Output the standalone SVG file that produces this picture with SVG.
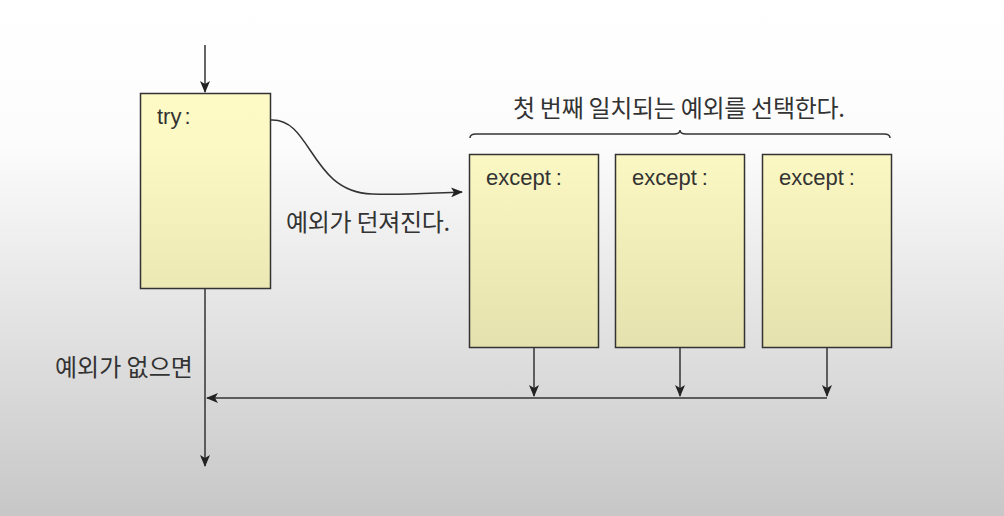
<svg xmlns="http://www.w3.org/2000/svg" width="1004" height="516" viewBox="0 0 1004 516">
<defs>
<linearGradient id="bg" gradientUnits="userSpaceOnUse" x1="0" y1="0" x2="0" y2="516">
<stop offset="0" stop-color="#ffffff"/>
<stop offset="0.28" stop-color="#fcfcfc"/>
<stop offset="1" stop-color="#c7c7c7"/>
</linearGradient>
<linearGradient id="box" gradientUnits="userSpaceOnUse" x1="0" y1="0" x2="0" y2="516">
<stop offset="0" stop-color="#fffcc8"/>
<stop offset="0.28" stop-color="#fdf9c4"/>
<stop offset="1" stop-color="#d2ce9c"/>
</linearGradient>
<marker id="ah" viewBox="0 0 12 10" refX="11" refY="5" markerWidth="12" markerHeight="10" markerUnits="userSpaceOnUse" orient="auto">
<path d="M0,0 L12,5 L0,10 L3,5 Z" fill="#222"/>
</marker>
</defs>
<style>
.node{fill:url(#box);stroke:#333;stroke-width:1.5}
.code{font-family:"Liberation Sans",Arial,sans-serif;font-size:22px;fill:#333}
.ko{font-family:"Noto Sans CJK KR","Noto Sans",sans-serif;font-size:24px;fill:#333}
.ln{fill:none;stroke:#333;stroke-width:1.5}
</style>
<rect width="1004" height="516" fill="url(#bg)"/>
<g id="try">
<rect class="node" x="140.5" y="93.5" width="130" height="195"/>
<text class="code" x="157" y="124">try<tspan dx="3">:</tspan></text>
</g>
<g id="except1">
<rect class="node" x="469.5" y="154.5" width="129" height="193"/>
<text class="code" x="486" y="185">except<tspan dx="5">:</tspan></text>
</g>
<g id="except2">
<rect class="node" x="615.5" y="154.5" width="129" height="193"/>
<text class="code" x="632" y="185">except<tspan dx="5">:</tspan></text>
</g>
<g id="except3">
<rect class="node" x="762.5" y="154.5" width="129" height="193"/>
<text class="code" x="779" y="185">except<tspan dx="5">:</tspan></text>
</g>
<g id="labels">
<text class="ko" x="513" y="117" letter-spacing="-0.3">첫 번째 일치되는 예외를 선택한다.</text>
<text class="ko" x="286" y="231" letter-spacing="-0.3">예외가 던져진다.</text>
<text class="ko" x="55" y="376">예외가 없으면</text>
</g>
<g id="connectors">
<path class="ln" d="M205,45 V92" marker-end="url(#ah)"/>
<path class="ln" d="M271,120 C312,118 310,192 372,194 C405,195 430,193 462,192" marker-end="url(#ah)"/>
<path class="ln" d="M470,138 C470,135 472,134 476,134 H674 C678,134 680,133 680,130 C680,133 682,134 686,134 H884 C888,134 890,135 890,138"/>
<path class="ln" d="M205,289 V466" marker-end="url(#ah)"/>
<path class="ln" d="M534,348 V396" marker-end="url(#ah)"/>
<path class="ln" d="M680,348 V396" marker-end="url(#ah)"/>
<path class="ln" d="M827,348 V396" marker-end="url(#ah)"/>
<path class="ln" d="M827,398 H207" marker-end="url(#ah)"/>
</g>
</svg>
